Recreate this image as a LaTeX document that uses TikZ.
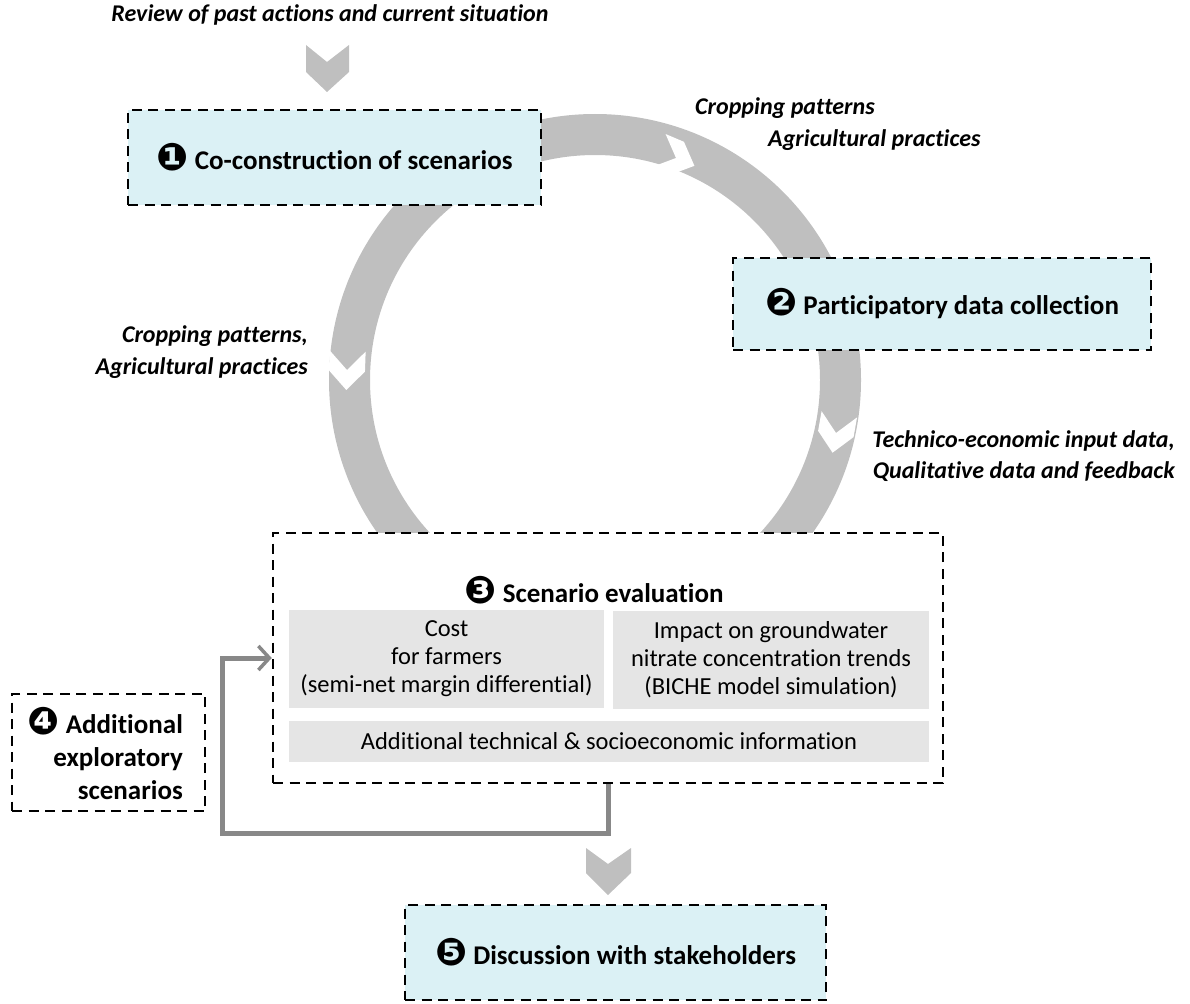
\documentclass[tikz,border=0pt]{standalone}
\usepackage{fontspec}
\setmainfont[Ligatures={NoCommon,NoRequired,NoContextual}]{Carlito}
\newfontfamily\dejavu{DejaVu Sans}
\usetikzlibrary{arrows.meta}
\definecolor{boxcyan}{RGB}{219,241,245}
\definecolor{ringgray}{RGB}{191,191,191}
\definecolor{innergray}{RGB}{229,229,229}
\definecolor{linkgray}{RGB}{136,136,136}
\newcommand{\bnum}[1]{\raisebox{-1pt}{\fontsize{38}{30}\selectfont\dejavu #1}}
\begin{document}
\begin{tikzpicture}[x=1pt,y=-1pt,
  dbox/.style={draw=black,line width=2.5pt,dash pattern=on 10pt off 6.5pt,inner sep=0pt},
  title/.style={font=\fontsize{27}{33}\selectfont\bfseries},
  lab/.style={font=\fontsize{24}{31.5}\selectfont\bfseries\itshape,inner sep=0pt},
  inner/.style={fill=innergray,inner sep=0pt,align=center,font=\fontsize{24.5}{28}\selectfont},
  chev/.style={fill=ringgray},
  wchev/.style={fill=white},
  conn/.style={draw=linkgray,line width=5pt,-{Straight Barb[length=11pt,width=24pt,line width=3.5pt]}}
]
\useasboundingbox (0,0) rectangle (1190,1003);

% ring
\fill[ringgray,even odd rule] (595,380) circle[radius=266] (595,380) circle[radius=225];
% white chevrons on ring
\fill[wchev,shift={(676,158)},rotate=-23] (20,0) -- (1,18) -- (-19,18) -- (0,0) -- (-19,-18) -- (1,-18) -- cycle;
\fill[wchev,shift={(347,370)},rotate=-92] (20,0) -- (1,18) -- (-19,18) -- (0,0) -- (-19,-18) -- (1,-18) -- cycle;
\fill[wchev,shift={(836,433)},rotate=-100] (20,0) -- (1,18) -- (-19,18) -- (0,0) -- (-19,-18) -- (1,-18) -- cycle;

% top label and chevron
\node[lab] (rev) at (330,15) {Review of past actions and current situation};
\fill[chev] (306,45) -- (327,62) -- (349,45) -- (349,72) -- (327,92) -- (306,72) -- cycle;

% boxes
\node[dbox,fill=boxcyan,minimum width=413pt,minimum height=95pt,title] (b1) at (334.5,157.5) {\bnum{❶} Co-construction of scenarios};
\node[dbox,fill=boxcyan,minimum width=418pt,minimum height=92pt,title] (b2) at (942,304) {\bnum{❷} Participatory data collection};
\node[dbox,fill=white,minimum width=670pt,minimum height=250pt] (b3) at (608,658) {};
\node[title,inner sep=0pt] (t3) at (594,590) {\bnum{❸} Scenario evaluation};
\node[inner,minimum width=315pt,minimum height=98pt] (gA) at (446.5,659) {Cost\\for farmers\\(semi-net margin differential)};
\node[inner,minimum width=316pt,minimum height=98pt] (gB) at (771,660) {Impact on groundwater\\nitrate concentration trends\\(BICHE model simulation)};
\node[inner,minimum width=640pt,minimum height=41pt] (gC) at (609,741.5) {Additional technical \& socioeconomic information};
\node[dbox,fill=white,minimum width=193pt,minimum height=117pt] (b4) at (108.5,752.5) {};
\node[title,align=right,anchor=east,inner sep=0pt] (t4) at (183,754) {\bnum{❹} Additional\\exploratory\\scenarios};
\node[dbox,fill=boxcyan,minimum width=421pt,minimum height=95pt,title] (b5) at (615.5,952.5) {\bnum{❺} Discussion with stakeholders};

% italic labels
\node[lab,anchor=west] (crop1) at (695,108) {Cropping patterns};
\node[lab,anchor=west] (crop2) at (768,140) {Agricultural practices};
\node[lab,align=right,anchor=east] (crop3) at (308,352) {Cropping patterns,\\Agricultural practices};
\node[lab,align=right,anchor=east] (tech) at (1175,456) {Technico-economic input data,\\Qualitative data and feedback};

% loop connector
\coordinate (lp) at (222,833);
\draw[conn] (b3.south) |- (lp) |- (b3.west);

% bottom chevron
\fill[chev] (586,848) -- (608,864) -- (631,848) -- (631,873) -- (608,895) -- (586,873) -- cycle;
\end{tikzpicture}
\end{document}
